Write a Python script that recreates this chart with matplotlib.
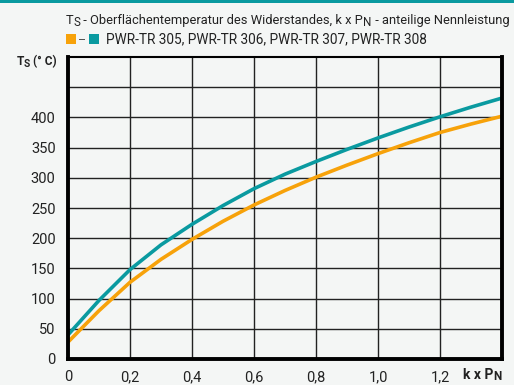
import matplotlib
matplotlib.use("Agg")
import matplotlib.pyplot as plt
from matplotlib.patches import Rectangle

# Data
x_vals = [0.0, 0.1, 0.2, 0.3, 0.4, 0.5, 0.6, 0.7, 0.8, 0.9, 1.0, 1.1, 1.2, 1.3, 1.4]
teal_vals = [40, 97, 148, 189, 223, 254, 282, 306, 327, 347, 366, 384, 401, 417, 432]
orange_vals = [28, 80, 127, 165, 198, 228, 255, 279, 301, 321, 340, 358, 375, 389, 402]
x_ticks = [0, 0.2, 0.4, 0.6, 0.8, 1.0, 1.2, 1.4]
x_ticklabels = ["0", "0,2", "0,4", "0,6", "0,8", "1,0", "1,2", ""]
y_grid = [0, 50, 100, 150, 200, 250, 300, 350, 400, 450]
y_ticklabels = ["0", "50", "100", "150", "200", "250", "300", "350", "400", ""]
title_parts = [("T", 0), ("S", -1), (" - Oberflächentemperatur des Widerstandes, k x P", 0), ("N", -1),
               (" - anteilige Nennleistung", 0)]
legend_text = "PWR-TR 305, PWR-TR 306, PWR-TR 307, PWR-TR 308"
ylabel_parts = [("T", 0), ("S", -1), (" (° C)", 0)]
xlabel_parts = [("k x P", 0), ("N", -1)]

TEAL = "#0a9aa0"
ORANGE = "#f7a20a"
BG = "#f4f6f5"
TXT = "#222222"

plt.rcParams['font.family'] = ['Roboto', 'DejaVu Sans']

W, H = 514, 385
fig = plt.figure(figsize=(W/100, H/100), dpi=100, facecolor=BG)
ax = fig.add_axes([68/W, 26/H, 434/W, 302/H])
ax.set_facecolor(BG)
renderer = fig.canvas.get_renderer()


def rich_text(x_px, y_px, parts, size, weight='normal', sub_scale=0.8, sub_drop=3.0, align='left'):
    """Draw text pieces in sequence; pieces with flag -1 are subscripts. x_px,y_px from top-left."""
    items = []
    total = 0.0
    for s, flag in parts:
        fs = size * (sub_scale if flag == -1 else 1.0)
        t = fig.text(0, 0, s, fontsize=fs, fontweight=weight, color=TXT, ha='left', va='baseline')
        w = t.get_window_extent(renderer).width
        items.append((t, w, flag))
        total += w
    cx = x_px if align == 'left' else x_px - total
    for t, w, flag in items:
        yy = y_px + (sub_drop if flag == -1 else 0)
        t.set_position((cx / W, (H - yy) / H))
        cx += w


ax.set_xlim(0, 1.4)
ax.set_ylim(0, 500)

for xv in x_ticks[1:-1]:
    ax.axvline(xv, color=TXT, lw=1.0, zorder=1)
for yv in y_grid[1:]:
    ax.axhline(yv, color=TXT, lw=1.0, zorder=1)

ax.plot(x_vals, orange_vals, color=ORANGE, lw=2.6, zorder=3)
ax.plot(x_vals, teal_vals, color=TEAL, lw=2.6, zorder=3)

ax.set_xticks(x_ticks)
ax.set_xticklabels(x_ticklabels)
ax.set_yticks(y_grid)
ax.set_yticklabels(y_ticklabels)
ax.tick_params(axis='both', length=0, labelsize=10.5, colors=TXT)
ax.tick_params(axis='x', pad=8)
ax.tick_params(axis='y', pad=9)

for side in ['left', 'bottom', 'right']:
    ax.spines[side].set_linewidth(2.8)
    ax.spines[side].set_color('black')
ax.spines['top'].set_linewidth(1.5)
ax.spines['top'].set_color('black')
for s in ax.spines.values():
    s.set_zorder(5)

# axis labels
rich_text(502, 379, xlabel_parts, 10, weight='bold', sub_scale=0.85, sub_drop=1.5, align='right')
rich_text(57, 65, ylabel_parts, 8.6, weight='bold', sub_scale=0.85, sub_drop=2.0, align='right')

# top band
fig.patches.append(Rectangle((0, 1 - 3/H), 1, 3/H, transform=fig.transFigure,
                             color=TEAL, lw=0, zorder=0))

# header lines
rich_text(66, 24, title_parts, 9.3, sub_scale=0.9, sub_drop=2.5)
fig.patches.append(Rectangle((66/W, (H - 44)/H), 10/W, 10/H, transform=fig.transFigure,
                             facecolor=ORANGE, lw=0))
fig.patches.append(Rectangle((79/W, (H - 39.5)/H), 6/W, 1.0/H, transform=fig.transFigure,
                             facecolor="#555555", lw=0))
fig.patches.append(Rectangle((89/W, (H - 44)/H), 10/W, 10/H, transform=fig.transFigure,
                             facecolor=TEAL, lw=0))
fig.text(106/W, (H - 39)/H, legend_text, ha='left', va='center', fontsize=9.8, color=TXT)

fig.savefig("out.png", dpi=100, facecolor=BG)
